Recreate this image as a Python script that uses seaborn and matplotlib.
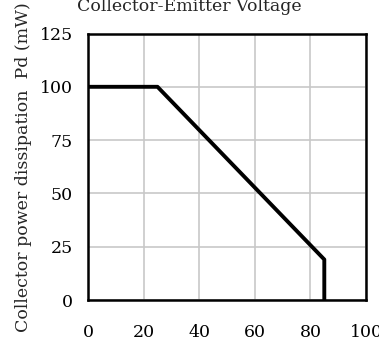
import matplotlib
matplotlib.use("Agg")
import matplotlib.pyplot as plt
import seaborn as sns
import pandas as pd

# derating curve: ambient temperature vs collector power dissipation
temp_c = [0, 25, 85, 85]
power_mw = [100, 100, 19, 0]
x_ticks = [0, 20, 40, 60, 80, 100]
y_ticks = [0, 25, 50, 75, 100, 125]

sns.set_theme(style="whitegrid")
plt.rcParams["font.family"] = ["DejaVu Serif"]

df = pd.DataFrame({"temp": temp_c, "power": power_mw})

fig = plt.figure(figsize=(3.79, 3.49), dpi=100)
ax = fig.add_axes([0.2322, 0.1404, 0.7335, 0.7636])

sns.lineplot(data=df, x="temp", y="power", sort=False, estimator=None,
             color="black", linewidth=2.8, ax=ax)

ax.set_xlim(0, 100)
ax.set_ylim(0, 125)
ax.set_xticks(x_ticks)
ax.set_yticks(y_ticks)
ax.tick_params(axis="x", length=0, pad=17, labelsize=12.5, colors="black")
ax.tick_params(axis="y", length=0, pad=11, labelsize=12.5, colors="black")
ax.grid(True, color="#c8c8c8", linewidth=1.2)
for s in ax.spines.values():
    s.set_color("black")
    s.set_linewidth(1.8)

ax.set_xlabel("Ambient temperature  Ta (°C)", fontsize=12.5, labelpad=8)
ax.set_ylabel("Collector power dissipation  Pd (mW)", fontsize=12.5)
ax.yaxis.set_label_coords(-0.2, 0.5)

fig.text(0.5, 0.969, "Collector-Emitter Voltage", ha="center", va="baseline",
         fontsize=12.5)

fig.savefig("out.png", dpi=100)
